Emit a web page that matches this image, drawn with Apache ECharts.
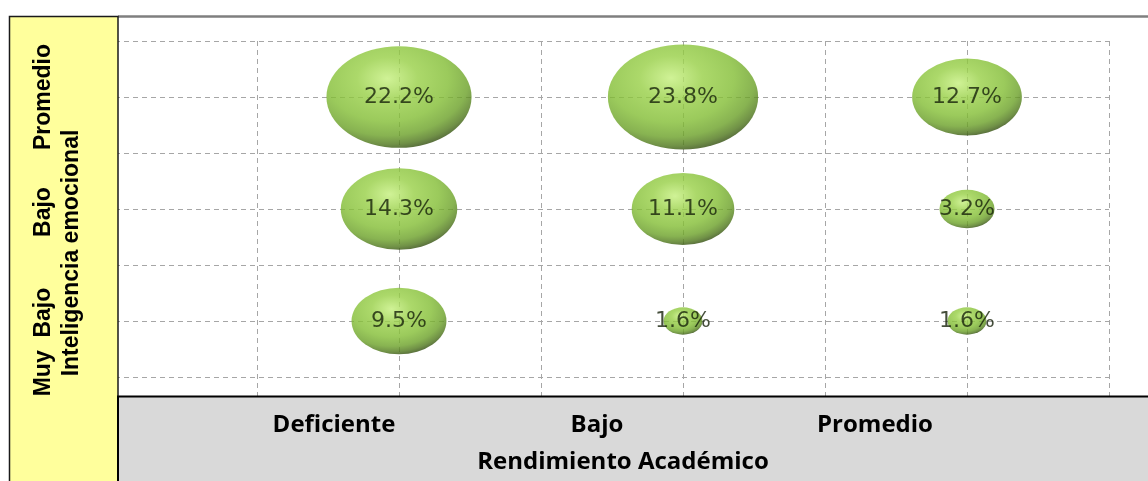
<!DOCTYPE html>
<html>
    <head>
        <meta charset="utf-8">
        <script src="https://cdn.jsdelivr.net/npm/echarts@6/dist/echarts.min.js"></script>
    </head>
    <body>
        <style>
            html, body, #main {
                width: 100%;
                height: 100%;
                margin: 0;
                background: #fff;
            }
        </style>
        <div id="main"></div>
        <script>
            // columns (Rendimiento Académico) and rows (Inteligencia emocional)
            var xLabels = ['Deficiente', 'Bajo', 'Promedio'];
            var yLabels = ['Muy Bajo', 'Bajo', 'Promedio'];
            var xTitle = 'Rendimiento Académico';
            var yTitle = 'Inteligencia emocional';

            // percentages per row, in column order
            var rowMuyBajo = [9.5, 1.6, 1.6];
            var rowBajo = [14.3, 11.1, 3.2];
            var rowPromedio = [22.2, 23.8, 12.7];

            var rows = [rowMuyBajo, rowBajo, rowPromedio];
            var data = [];
            rows.forEach(function (row, j) {
                row.forEach(function (v, i) {
                    data.push([2 + 2 * i, 2 + 2 * j, v]);
                });
            });

            var chart = echarts.init(document.getElementById('main'));

            var dash = {color: '#a6a6a6', width: 1, type: [5, 4]};

            // label positions inside the side panels
            var xLabelPos = [334, 597, 875];
            var yLabelPos = [342, 212, 97];

            var graphics = [
                {
                    type: 'line', z: 100,
                    shape: {x1: 118, y1: 16.5, x2: 1150, y2: 16.5},
                    style: {stroke: '#7f7f7f', lineWidth: 2.5}
                },
                {
                    type: 'rect', z: 100,
                    shape: {x: 9.5, y: 16.5, width: 108.5, height: 480},
                    style: {fill: '#ffff9c', stroke: '#1a1a1a', lineWidth: 1.5}
                },
                {
                    type: 'rect', z: 100,
                    shape: {x: 118, y: 396.5, width: 1040, height: 100},
                    style: {fill: '#d9d9d9', stroke: '#000', lineWidth: 2}
                },
                {
                    type: 'text', z: 101,
                    x: 623, y: 462,
                    style: {
                        text: xTitle, fill: '#000',
                        font: 'bold 24px "Open Sans"',
                        textAlign: 'center', textVerticalAlign: 'middle'
                    }
                },
                {
                    type: 'text', z: 101,
                    x: 72, y: 253, rotation: Math.PI / 2,
                    style: {
                        text: yTitle, fill: '#000',
                        font: 'bold 23px "Liberation Sans"',
                        textAlign: 'center', textVerticalAlign: 'middle'
                    }
                }
            ];
            xLabels.forEach(function (t, i) {
                graphics.push({
                    type: 'text', z: 101,
                    x: xLabelPos[i], y: 425,
                    style: {
                        text: t, fill: '#000',
                        font: 'bold 24px "Open Sans"',
                        textAlign: 'center', textVerticalAlign: 'middle'
                    }
                });
            });
            yLabels.forEach(function (t, j) {
                graphics.push({
                    type: 'text', z: 101,
                    x: 44, y: yLabelPos[j], rotation: Math.PI / 2,
                    style: {
                        text: t.replace(' ', '  '), fill: '#000',
                        font: 'bold 23px "Liberation Sans"',
                        textAlign: 'center', textVerticalAlign: 'middle'
                    }
                });
            });

            chart.setOption({
                animation: false,
                backgroundColor: '#fff',
                grid: {
                    left: 115,
                    right: 39,
                    top: 41,
                    bottom: 48
                },
                xAxis: {
                    type: 'value',
                    min: 0,
                    max: 7,
                    interval: 1,
                    axisLine: {show: false},
                    axisTick: {show: false},
                    axisLabel: {show: false},
                    splitLine: {show: true, lineStyle: dash}
                },
                yAxis: {
                    type: 'value',
                    min: 0,
                    max: 7,
                    interval: 1,
                    axisLine: {show: false},
                    axisTick: {show: false},
                    axisLabel: {show: false},
                    splitLine: {show: true, lineStyle: dash}
                },
                graphic: graphics,
                series: [
                    {
                        type: 'scatter',
                        data: data,
                        symbol: 'circle',
                        symbolSize: function (d) {
                            var w = 30.8 * Math.sqrt(d[2]);
                            return [w, w * 0.7];
                        },
                        itemStyle: {
                            color: {
                                type: 'radial',
                                x: 0.42, y: 0.32, r: 0.7,
                                colorStops: [
                                    {offset: 0, color: '#c4ef7c'},
                                    {offset: 0.3, color: '#97cf45'},
                                    {offset: 0.6, color: '#82bd33'},
                                    {offset: 0.8, color: '#6aa026'},
                                    {offset: 0.92, color: '#4d7619'},
                                    {offset: 1, color: '#2f4a0c'}
                                ]
                            }
                        },
                        label: {
                            show: true,
                            position: 'inside',
                            color: '#16220a',
                            fontFamily: 'DejaVu Sans',
                            fontSize: 22,
                            formatter: function (p) {
                                return p.value[2].toFixed(1) + '%';
                            }
                        }
                    }
                ]
            });
        </script>
    </body>
</html>
